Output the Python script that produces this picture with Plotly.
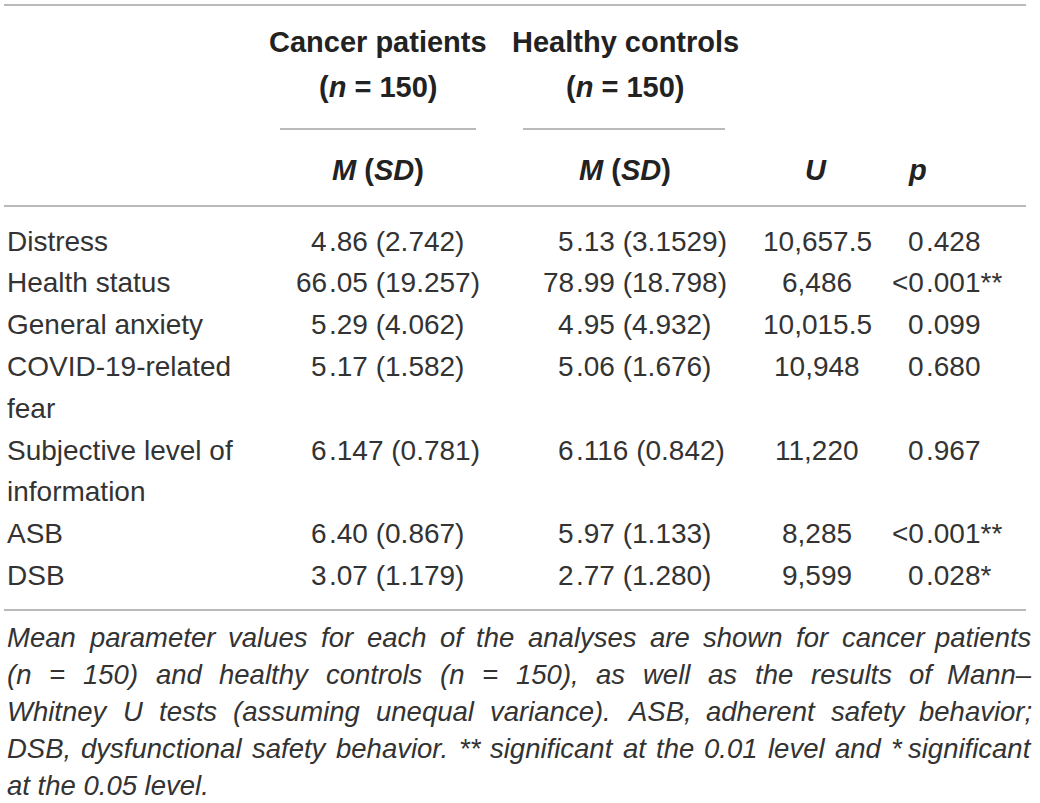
import plotly.graph_objects as go

# ---------------- data ----------------
measures = [["Distress"], ["Health status"], ["General anxiety"],
            ["COVID-19-related", "fear"], ["Subjective level of", "information"],
            ["ASB"], ["DSB"]]
cancer_msd = ["4.86 (2.742)", "66.05 (19.257)", "5.29 (4.062)", "5.17 (1.582)",
              "6.147 (0.781)", "6.40 (0.867)", "3.07 (1.179)"]
healthy_msd = ["5.13 (3.1529)", "78.99 (18.798)", "4.95 (4.932)", "5.06 (1.676)",
               "6.116 (0.842)", "5.97 (1.133)", "2.77 (1.280)"]
u_values = ["10,657.5", "6,486", "10,015.5", "10,948", "11,220", "8,285", "9,599"]
p_values = ["0.428", "<0.001**", "0.099", "0.680", "0.967", "<0.001**", "0.028*"]
group_titles = ["Cancer patients", "Healthy controls"]
group_n = [150, 150]
caption_lines = [
    "Mean parameter values for each of the analyses are shown for cancer patients",
    "(n = 150) and healthy controls (n = 150), as well as the results of Mann\u2013",
    "Whitney U tests (assuming unequal variance). ASB, adherent safety behavior;",
    "DSB, dysfunctional safety behavior. ** significant at the 0.01 level and * significant",
    "at the 0.05 level.",
]

# ---------------- style / layout ----------------
W, H = 1040, 803
FONT = "Liberation Sans, Arial, Helvetica, sans-serif"
TXT = "#222222"
BODYC = "#333333"
RULE = "#a3a3a3"
BODY = 28
HEAD = 29
CAP = 27.5

x_label = 6
x_cancer_dec = 328
x_healthy_dec = 575
x_u = 817
x_p_dec = 925
x_cancer_head = 378
x_healthy_head = 625
x_u_head = 816
x_p_head = 917
row_y0, row_pitch = 241, 41.8
cap_y0, cap_pitch = 637, 37.0
cap_left, cap_right = 6, 1033

ARIAL = {' ': 278, '!': 278, '(': 333, ')': 333, '*': 389, ',': 278, '-': 333, '.': 278,
         ';': 278, '=': 584, '<': 584, '\u2013': 556,
         'A': 667, 'B': 667, 'C': 722, 'D': 722, 'E': 667, 'F': 611, 'G': 778, 'H': 722,
         'I': 278, 'J': 500, 'K': 667, 'L': 556, 'M': 833, 'N': 722, 'O': 778, 'P': 667,
         'Q': 778, 'R': 722, 'S': 667, 'T': 611, 'U': 722, 'V': 667, 'W': 944, 'X': 667,
         'Y': 667, 'Z': 611,
         'a': 556, 'b': 556, 'c': 500, 'd': 556, 'e': 556, 'f': 278, 'g': 556, 'h': 556,
         'i': 222, 'j': 222, 'k': 500, 'l': 222, 'm': 833, 'n': 556, 'o': 556, 'p': 556,
         'q': 556, 'r': 333, 's': 500, 't': 278, 'u': 556, 'v': 500, 'w': 722, 'x': 500,
         'y': 500, 'z': 500}


def tw(s, size):
    return sum(ARIAL.get(c, 556) for c in s) * size / 1000.0


fig = go.Figure()
fig.add_trace(go.Scatter(x=[0, W], y=[0, H], mode="markers",
                         marker=dict(opacity=0), hoverinfo="skip", showlegend=False))

ann = []


def add(text, x, y, xanchor="left", size=BODY, color=BODYC):
    ann.append(dict(text=text, x=x, y=y, xref="x", yref="y", xanchor=xanchor,
                    yanchor="middle", showarrow=False, borderpad=0,
                    font=dict(family=FONT, size=size, color=color)))


# header
for title, n, xc in zip(group_titles, group_n, [x_cancer_head, x_healthy_head]):
    add("<b>%s</b>" % title, xc, 42, "center", HEAD, TXT)
    add("<b>(<i>n</i> = %d)</b>" % n, xc, 87, "center", HEAD, TXT)
    add("<b><i>M</i> (<i>SD</i>)</b>", xc, 170, "center", HEAD, TXT)
add("<b><i>U</i></b>", x_u_head, 170, "center", HEAD, TXT)
add("<b><i>p</i></b>", x_p_head, 170, "center", HEAD, TXT)


def add_dec(text, xdec, y):
    ip, rest = text.split(".", 1)
    add(ip, xdec, y, "right")
    add("." + rest, xdec, y, "left")


# body
line = 0
for lab, c, h, u, p in zip(measures, cancer_msd, healthy_msd, u_values, p_values):
    y = row_y0 + line * row_pitch
    for k, part in enumerate(lab):
        add(part, x_label, row_y0 + (line + k) * row_pitch)
    add_dec(c, x_cancer_dec, y)
    add_dec(h, x_healthy_dec, y)
    add(u, x_u, y, "center")
    add_dec(p, x_p_dec, y)
    line += len(lab)

# caption (justified)
for i, txt in enumerate(caption_lines):
    y = cap_y0 + i * cap_pitch
    words = txt.split(" ")
    if i < len(caption_lines) - 1 and len(words) > 1:
        widths = [tw(w, CAP) for w in words]
        gap = (cap_right - cap_left - sum(widths)) / (len(words) - 1)
        x = cap_left
        for j, w in enumerate(words):
            if j == len(words) - 1:
                add("<i>%s</i>" % w, cap_right, y, "right", CAP)
            else:
                add("<i>%s</i>" % w, x, y, "left", CAP)
            x += widths[j] + gap
    else:
        add("<i>%s</i>" % txt, cap_left, y, "left", CAP)

# rules
shapes = []
for yy in [5, 206, 610]:
    shapes.append(dict(type="line", xref="x", yref="y", x0=4, x1=1026, y0=yy, y1=yy,
                       line=dict(color=RULE, width=1.3)))
for x0, x1 in [(280, 476), (523, 725)]:
    shapes.append(dict(type="line", xref="x", yref="y", x0=x0, x1=x1, y0=129, y1=129,
                       line=dict(color=RULE, width=1.3)))

fig.update_layout(
    width=W, height=H, margin=dict(l=0, r=0, t=0, b=0),
    paper_bgcolor="white", plot_bgcolor="white",
    xaxis=dict(range=[0, W], visible=False, fixedrange=True),
    yaxis=dict(range=[H, 0], visible=False, fixedrange=True),
    annotations=ann, shapes=shapes, showlegend=False,
)

fig.write_html("out.html", config={"displayModeBar": False},
               post_script="document.body.style.margin='0px';document.body.style.overflow='hidden';")
